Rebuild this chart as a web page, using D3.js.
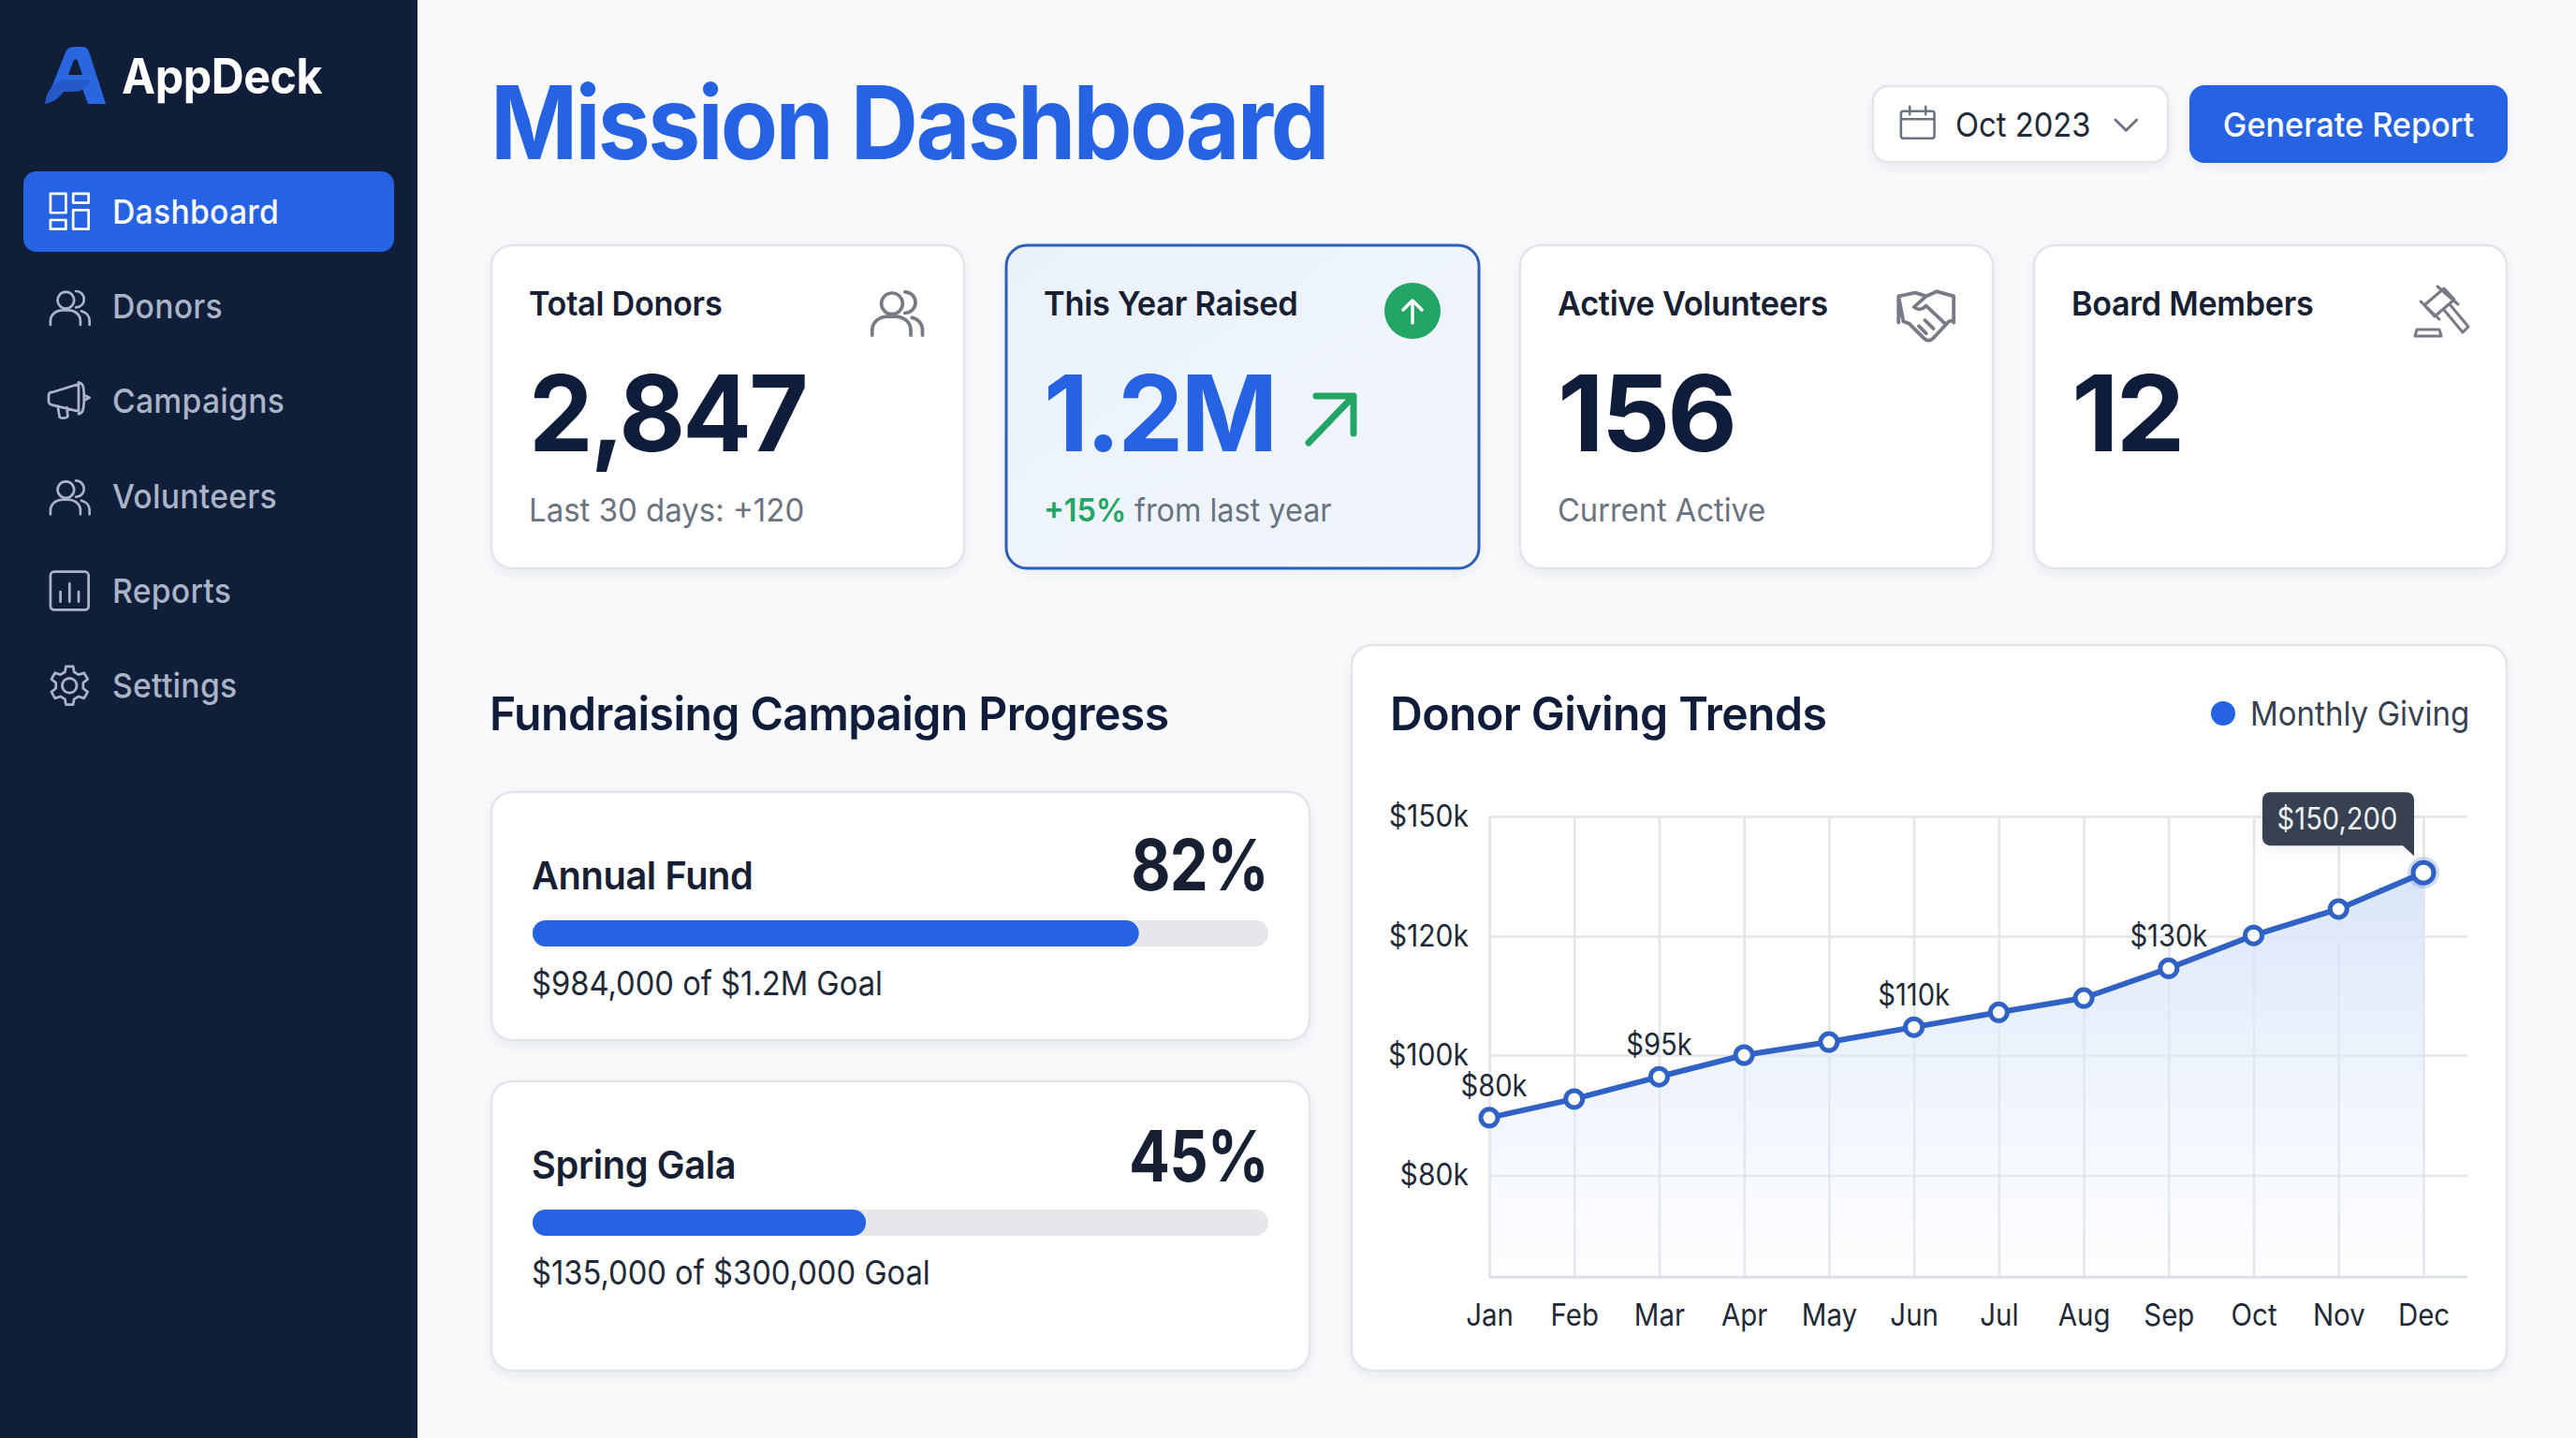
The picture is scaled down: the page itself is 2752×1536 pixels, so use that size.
<!DOCTYPE html>
<html>
<head>
<meta charset="utf-8">
<title>Mission Dashboard</title>
<script src="https://cdn.jsdelivr.net/npm/d3@7/dist/d3.min.js"></script>
<style>
	html, body { margin: 0; padding: 0; background: #f8fafc; }
	svg { display: block; font-family: Inter, "Noto Sans", sans-serif; }
	.card { filter: drop-shadow(0 5px 7px rgba(30, 41, 59, 0.07)); }
	.icon { fill: none; stroke-linecap: round; stroke-linejoin: round; }
	.axis text { font-size: 32px; fill: #1f2937; font-family: Inter, sans-serif; }
	.axis line, .axis path { stroke: #e2e5ea; stroke-width: 2.5; }
</style>
</head>
<body>
<div id="page"></div>
<script>
	/* data */
	var navItems = ['Dashboard', 'Donors', 'Campaigns', 'Volunteers', 'Reports', 'Settings'];

	var statLabels = ['Total Donors', 'This Year Raised', 'Active Volunteers', 'Board Members'];
	var statValues = ['2,847', '1.2M', '156', '12'];
	var statNotes = ['Last 30 days: +120', 'from last year', 'Current Active', ''];

	var campaignNames = ['Annual Fund', 'Spring Gala'];
	var campaignPercents = [82.4, 45.3];
	var campaignNotes = ['$984,000 of $1.2M Goal', '$135,000 of $300,000 Goal'];

	var months = ['Jan', 'Feb', 'Mar', 'Apr', 'May', 'Jun', 'Jul', 'Aug', 'Sep', 'Oct', 'Nov', 'Dec'];
	var giving = [89.6, 92.7, 96.4, 100, 102.2, 104.7, 107.2, 109.6, 114.6, 120.2, 126.8, 135.9];
	var yTicks = [80, 100, 120, 150];
	var yFloor = 63;
	var labelMonths = ['Jan', 'Mar', 'Jun', 'Sep'];
	var labelTexts = ['$80k', '$95k', '$110k', '$130k'];
	var tooltipText = '$150,200';
	/* end data */

	var navy = '#0f1d3a', blue = '#2563e2', line = '#2f62c4', green = '#22a565', grey = '#6b7280';

	var svg = d3.select('#page').append('svg')
		.attr('width', 2752)
		.attr('height', 1536);

	var defs = svg.append('defs');

	var areaGrad = defs.append('linearGradient')
		.attr('id', 'areaGrad')
		.attr('gradientUnits', 'userSpaceOnUse')
		.attr('x1', 0).attr('x2', 0).attr('y1', 930).attr('y2', 1364);
	areaGrad.append('stop').attr('offset', 0).attr('stop-color', '#d6e3f8').attr('stop-opacity', 0.95);
	areaGrad.append('stop').attr('offset', 1).attr('stop-color', '#eaf1fc').attr('stop-opacity', 0.12);

	var raisedGrad = defs.append('linearGradient')
		.attr('id', 'raisedGrad')
		.attr('x1', 0).attr('x2', 1).attr('y1', 0).attr('y2', 1);
	raisedGrad.append('stop').attr('offset', 0).attr('stop-color', '#ebf1fb');
	raisedGrad.append('stop').attr('offset', 1).attr('stop-color', '#f1f6fd');

	svg.append('rect').attr('width', 2752).attr('height', 1536).attr('fill', '#f8fafc');

	// the reference type runs a little narrower than Inter, so squeeze it
	function squeeze(sel, fit) {
		sel.each(function() {
			var node = d3.select(this);
			node.attr('textLength', this.getComputedTextLength() * fit)
				.attr('lengthAdjust', 'spacingAndGlyphs');
		});
		return sel;
	}

	function drawText(parent, x, y, str, size, weight, color, anchor, spacing, fit) {
		var el = parent.append('text')
			.attr('x', x)
			.attr('y', y)
			.attr('font-size', size)
			.attr('font-weight', weight)
			.attr('fill', color)
			.attr('text-anchor', anchor || 'start')
			.attr('letter-spacing', spacing || 0)
			.text(str);
		if (fit) {
			squeeze(el, fit);
		}
		return el;
	}

	function drawCard(x0, y0, x1, y1, fill, stroke, strokeWidth) {
		return svg.append('rect')
			.attr('class', 'card')
			.attr('x', x0)
			.attr('y', y0)
			.attr('width', x1 - x0)
			.attr('height', y1 - y0)
			.attr('rx', 22)
			.attr('fill', fill || '#ffffff')
			.attr('stroke', stroke || '#e2e5ea')
			.attr('stroke-width', strokeWidth || 2.5);
	}

	// icon paths are drawn in a 48 box
	var peoplePath = 'M20 8a9 9 0 1 1 -0.1 0 M31 7a9 9 0 0 1 0 18 M3 44v-4c0-7 6-12 13-12h7c7 0 13 5 13 12v4 M37 29c5 1 9 5 9 11v4';
	var icons = {
		Dashboard: 'M3 4h17v21h-17z M28 4h17v10h-17z M3 33h17v10h-17z M28 22h17v21h-17z',
		Donors: peoplePath,
		Campaigns: 'M1 18c0-3 2-4 4-4l29-9v30l-29-7c-2 0-4-2-4-4z M34 3c4 1 6 2 6 17s-2 17-6 18 M40 17l6 3-6 3 M11 29l2 12c0 2 9 2 9-1l-1-9',
		Volunteers: peoplePath,
		Reports: 'M7 3h34a4 4 0 0 1 4 4v34a4 4 0 0 1 -4 4h-34a4 4 0 0 1 -4-4v-34a4 4 0 0 1 4-4z M14 36v-11 M24 36v-20 M34 36v-11',
		Settings: 'M24 16a8 8 0 1 1 -0.1 0 M20 3h8l1 6 5 3 6-2 4 7-5 4v6l5 4-4 7-6-2-5 3-1 6h-8l-1-6-5-3-6 2-4-7 5-4v-6l-5-4 4-7 6 2 5-3z'
	};

	function drawIcon(path, x, y, scale, color, strokeWidth) {
		return svg.append('path')
			.attr('class', 'icon')
			.attr('transform', 'translate(' + x + ',' + y + ') scale(' + scale + ')')
			.attr('d', path)
			.attr('stroke', color)
			.attr('stroke-width', strokeWidth);
	}

	/* sidebar */
	svg.append('rect').attr('width', 446).attr('height', 1536).attr('fill', '#111e3a');

	svg.append('path')
		.attr('d', 'M48 111 L70 56 Q72 50 79 50 H88 Q93 50 95 55 L113 111 H94 L88 95 H66 Q60 108 48 111 Z M73 80 H88 L83 65 Q80 61 78 66 Z')
		.attr('fill', '#2a66e0')
		.attr('fill-rule', 'evenodd');
	svg.append('path')
		.attr('d', 'M48 111 Q50 90 70 85 H96 Q92 98 78 98 H68 Q60 109 48 111 Z')
		.attr('fill', '#2459c8');
	drawText(svg, 130, 100, 'AppDeck', 52, 700, '#ffffff', 'start', -0.5, 0.93);

	svg.append('rect')
		.attr('x', 25).attr('y', 183)
		.attr('width', 396).attr('height', 86)
		.attr('rx', 14)
		.attr('fill', blue);

	navItems.forEach(function(item, i) {
		var yMid = 226 + i * 101.2;
		drawText(svg, 120, yMid + 13, item, 36, 500, i === 0 ? '#ffffff' : '#a9b4c6', 'start', 0.3, 0.935);
		drawIcon(icons[item], 51, yMid - 23, 0.97, i === 0 ? '#ffffff' : '#a9b4c6', 2.8);
	});

	/* header */
	drawText(svg, 524, 170, 'Mission Dashboard', 108, 700, blue, 'start', -3, 0.927);

	drawCard(2001, 92, 2316, 173).attr('rx', 16);
	drawIcon('M4 8h36a3 3 0 0 1 3 3v28a3 3 0 0 1 -3 3h-36a3 3 0 0 1 -3-3v-28a3 3 0 0 1 3-3z M1 18h42 M12 2v10 M32 2v10', 2030, 112, 0.85, grey, 3);
	drawText(svg, 2089, 146, 'Oct 2023', 36, 400, '#1f2937', 'start', 0, 0.91);
	drawIcon('M1 1l12 12 12-12', 2259, 127, 0.95, grey, 3);

	svg.append('rect')
		.attr('class', 'card')
		.attr('x', 2339).attr('y', 91)
		.attr('width', 340).attr('height', 83)
		.attr('rx', 16)
		.attr('fill', blue);
	drawText(svg, 2509, 146, 'Generate Report', 36, 500, '#ffffff', 'middle', 0, 0.95);

	/* stat cards */
	var cardLeft = [525, 1075, 1624, 2173];
	var labelFit = [0.95, 0.956, 0.953, 0.948];
	var valueFit = [0.965, 0.985, 1.02, 1.04];
	var noteFit = [0.97, 0.98, 0.96, 1];

	statLabels.forEach(function(label, i) {
		var x0 = cardLeft[i];
		var raised = i === 1;
		drawCard(x0, 262, x0 + 505, 607, raised ? 'url(#raisedGrad)' : '#ffffff', raised ? '#2f5fb3' : null, raised ? 3 : null);
		drawText(svg, x0 + 40, 337, label, 36, 600, '#172033', 'start', -0.3, labelFit[i]);
		drawText(svg, x0 + 40, 482, statValues[i], 113, 700, raised ? blue : navy, 'start', -3, valueFit[i]);
		if (raised) {
			var plus = drawText(svg, x0 + 40, 557, '+15%', 34, 600, green);
			plus.append('tspan').attr('fill', grey).attr('font-weight', 400).attr('dx', 9).text(statNotes[i]);
			squeeze(plus, noteFit[i]);
		} else if (statNotes[i]) {
			drawText(svg, x0 + 40, 557, statNotes[i], 34, 400, grey, 'start', 0, noteFit[i]);
		}
	});

	drawIcon(peoplePath, 928, 303, 1.25, '#767b85', 3);
	svg.append('circle').attr('cx', 1509).attr('cy', 332).attr('r', 30).attr('fill', green);
	drawIcon('M12 26v-24 M2 12l10-10 10 10', 1497, 319, 1, '#ffffff', 3.5);
	drawIcon('M2 54l48-50 M10 4h40v40', 1396, 419, 1, green, 7);
	drawIcon('M1 5l14 -3 9 3 9-4 14 4v20l-4 1-13 14c-3 3-6 2-8 0l-12-12-5-2z M24 5l-10 9c3 3 7 2 10-1l16 15 M18 30l6 6 M23 25l7 7 M1 5v22 M47 5v22',
		2027, 310, 1.28, '#767b85', 3);
	drawIcon('M2590 326L2611 308L2622 320L2601 338z M2604 306L2626 325 M2586 322L2606 341 M2611 331L2631 355L2637 349L2617 325 M2582 352h24l2 7h-28z',
		0, 0, 1, '#767b85', 3);

	/* campaign progress */
	drawText(svg, 523, 780, 'Fundraising Campaign Progress', 50, 600, navy, 'start', -0.6, 0.963);

	var barX = d3.scaleLinear().domain([0, 100]).range([569, 1355]);
	var campaignTop = [846, 1155];
	var campaignBottom = [1111, 1464];

	campaignNames.forEach(function(name, i) {
		var top = campaignTop[i];
		var offset = i === 0 ? 0 : 309;
		drawCard(525, top, 1399, campaignBottom[i]);
		drawText(svg, 568, 950 + offset, name, 41, 600, '#172033', 'start', -0.4, 0.97);
		drawText(svg, 1355, 951 + offset + (i === 0 ? 0 : 2), Math.round(campaignPercents[i]) + '%', 76, 700, '#172033', 'end', -1, 0.855);
		svg.append('rect')
			.attr('x', barX(0)).attr('y', 983 + offset)
			.attr('width', barX(100) - barX(0)).attr('height', 28)
			.attr('rx', 14)
			.attr('fill', '#e5e7eb');
		svg.append('rect')
			.attr('x', barX(0)).attr('y', 983 + offset)
			.attr('width', barX(campaignPercents[i]) - barX(0)).attr('height', 28)
			.attr('rx', 14)
			.attr('fill', blue);
		drawText(svg, 568, 1063 + offset, campaignNotes[i], 36, 400, '#1f2937', 'start', 0, 0.908);
	});

	/* giving trends chart */
	drawCard(1444, 689, 2678, 1464);
	drawText(svg, 1485, 780, 'Donor Giving Trends', 50, 600, navy, 'start', -0.6, 0.964);
	svg.append('circle').attr('cx', 2375).attr('cy', 762).attr('r', 13).attr('fill', blue);
	drawText(svg, 2404, 775, 'Monthly Giving', 36, 400, '#374151', 'start', 0, 0.917);

	var plotLeft = 1591, plotRight = 2636, plotTop = 872, plotBottom = 1364;

	var x = d3.scalePoint()
		.domain(months)
		.range([plotLeft, 2589]);

	// the printed axis is not evenly scaled: equal steps for 80, 100, 120, 150
	var y = d3.scaleLinear()
		.domain([yFloor].concat(yTicks))
		.range([plotBottom, 1255.5, 1127, 1000, plotTop]);

	svg.append('g')
		.attr('class', 'axis')
		.attr('transform', 'translate(' + plotLeft + ',0)')
		.call(d3.axisLeft(y)
			.tickValues(yTicks)
			.tickSize(-(plotRight - plotLeft))
			.tickSizeOuter(0)
			.tickPadding(22)
			.tickFormat(function(d) { return '$' + d + 'k'; }))
		.call(function(g) { squeeze(g.selectAll('text'), 0.94); });

	svg.append('g')
		.attr('class', 'axis')
		.attr('transform', 'translate(0,' + plotBottom + ')')
		.call(d3.axisBottom(x)
			.tickSize(-(plotBottom - plotTop))
			.tickSizeOuter(0)
			.tickPadding(29))
		.call(function(g) { squeeze(g.selectAll('text'), 0.92); });

	svg.append('line')
		.attr('x1', plotLeft).attr('x2', plotRight)
		.attr('y1', plotBottom).attr('y2', plotBottom)
		.attr('stroke', '#dcdfe5')
		.attr('stroke-width', 2.5);

	var area = d3.area()
		.x(function(d, i) { return x(months[i]); })
		.y0(plotBottom)
		.y1(function(d) { return y(d); });

	var trend = d3.line()
		.x(function(d, i) { return x(months[i]); })
		.y(function(d) { return y(d); });

	svg.append('path')
		.datum(giving)
		.attr('d', area)
		.attr('fill', 'url(#areaGrad)');

	svg.append('path')
		.datum(giving)
		.attr('d', trend)
		.attr('fill', 'none')
		.attr('stroke', line)
		.attr('stroke-width', 6)
		.attr('stroke-linejoin', 'round');

	var lastX = x(months[months.length - 1]);
	var lastY = y(giving[giving.length - 1]);

	svg.append('circle')
		.attr('cx', lastX).attr('cy', lastY)
		.attr('r', 17)
		.attr('fill', line)
		.attr('opacity', 0.22);

	svg.selectAll('circle.point')
		.data(giving)
		.enter()
		.append('circle')
		.attr('class', 'point')
		.attr('cx', function(d, i) { return x(months[i]); })
		.attr('cy', function(d) { return y(d); })
		.attr('r', function(d, i) { return i === months.length - 1 ? 11 : 9; })
		.attr('fill', '#ffffff')
		.attr('stroke', line)
		.attr('stroke-width', 5);

	labelMonths.forEach(function(month, i) {
		var idx = months.indexOf(month);
		drawText(svg, x(month) + (i === 0 ? 5 : 0), y(giving[idx]) - 23, labelTexts[i], 32, 400, '#1f2937', 'middle', 0, 0.91);
	});

	// tooltip sits up and to the left of the last point
	svg.append('path')
		.attr('class', 'card')
		.attr('transform', 'translate(' + lastX + ',' + lastY + ')')
		.attr('d', 'M-164 -86H-18a8 8 0 0 1 8 8V-18L-22 -29H-164a8 8 0 0 1 -8-8V-78a8 8 0 0 1 8-8z')
		.attr('fill', '#374151');
	drawText(svg, lastX - 92, lastY - 46, tooltipText, 32, 400, '#eef1f5', 'middle', 0, 0.91);
</script>
</body>
</html>
